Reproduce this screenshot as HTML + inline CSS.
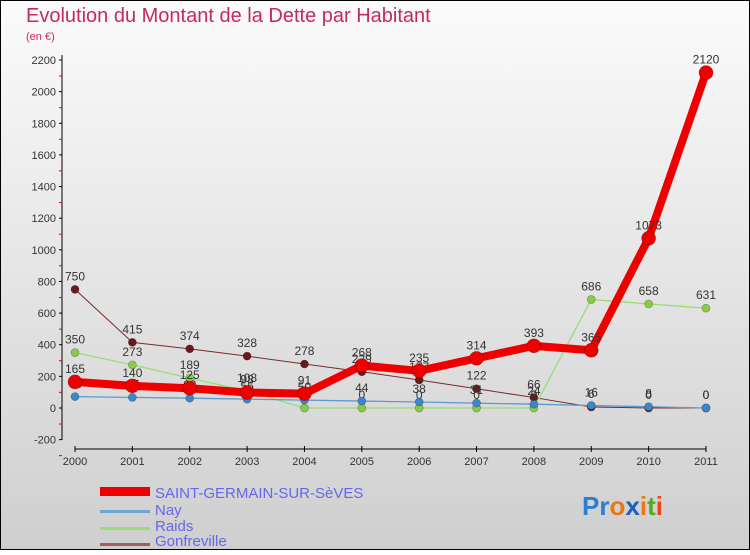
<!DOCTYPE html>
<html><head><meta charset="utf-8"><style>
body{margin:0;width:750px;height:550px;overflow:hidden;font-family:"Liberation Sans",sans-serif}
</style></head><body>
<svg width="750" height="550" xmlns="http://www.w3.org/2000/svg">
<defs><linearGradient id="bg" x1="0" y1="0" x2="0" y2="1"><stop offset="0" stop-color="#fbfbfb"/><stop offset="1" stop-color="#cfcfcf"/></linearGradient></defs>
<rect x="0.5" y="0.5" width="749" height="549" fill="url(#bg)" stroke="#000"/>
<text x="26" y="22" font-size="20" fill="#c8285a">Evolution du Montant de la Dette par Habitant</text>
<text x="26" y="40" font-size="11" fill="#c8285a">(en €)</text>
<g id="axes"></g><g id="series"></g>
<g>
<rect x="100" y="487" width="50" height="9" fill="#e00"/>
<text x="155" y="498" font-size="15" fill="#6666ee">SAINT-GERMAIN-SUR-SèVES</text>
<rect x="100" y="510" width="50" height="3" fill="#6aa6d6"/>
<text x="155" y="515" font-size="15" fill="#6666ee">Nay</text>
<rect x="100" y="527" width="50" height="3" fill="#99dd77"/>
<text x="155" y="531" font-size="15" fill="#6666ee">Raids</text>
<rect x="100" y="543" width="50" height="3" fill="#a06060"/>
<text x="155" y="546" font-size="15" fill="#6666ee">Gonfreville</text>
</g>
<text x="582" y="515" font-size="26" font-weight="bold"><tspan fill="#2a7fd0">Pr</tspan><tspan fill="#ee7711">o</tspan><tspan fill="#1a5fbf">x</tspan><tspan fill="#ee7711">i</tspan><tspan fill="#55aa22">t</tspan><tspan fill="#ee4411">i</tspan></text>
</svg>
<script>
const years=[2000,2001,2002,2003,2004,2005,2006,2007,2008,2009,2010,2011];
const yTicks=[-200,0,200,400,600,800,1000,1200,1400,1600,1800,2000,2200];
const sgValues=[165,140,125,98,91,268,235,314,393,365,1073,2120];
const nayValues=[72,67,62,56,50,44,38,31,24,16,8,0];
const raidsValues=[350,273,189,108,0,0,0,0,0,686,658,631];
const gonfValues=[750,415,374,328,278,229,177,122,66,6,0,0];
const NS='http://www.w3.org/2000/svg';
const xS=i=>75+i*(706-75)/11;
const yS=v=>408-v*348/2200;
function mk(t,a,p){const e=document.createElementNS(NS,t);for(const k in a)e.setAttribute(k,a[k]);p.appendChild(e);return e;}
const ax=document.getElementById('axes');
const yAxis=mk('line',{x1:62,y1:55,x2:62,y2:440,stroke:'#000'},ax);


const xAxis=mk('line',{x1:75,y1:449,x2:706,y2:449,stroke:'#000'},ax);


yTicks.forEach(v=>{const y=yS(v);
mk('line',{x1:59,y1:y,x2:62,y2:y,stroke:'#000'},ax);
mk('line',{x1:59,y1:y+16,x2:62,y2:y+16,stroke:'#e00'},ax);
const t=mk('text',{x:56,y:y+4,'font-size':11,fill:'#333','text-anchor':'end'},ax);t.textContent=v;

});
years.forEach((yr,i)=>{const x=xS(i);
mk('line',{x1:x,y1:446,x2:x,y2:452,stroke:'#000'},ax);
const t=mk('text',{x:x,y:465,'font-size':11,fill:'#333','text-anchor':'middle'},ax);t.textContent=yr;

});
const sg=document.getElementById('series');
function series(vals,color,w,r,name,dot){
const pl=mk('polyline',{points:vals.map((v,i)=>xS(i)+','+yS(v)).join(' '),fill:'none',stroke:color,'stroke-width':w,'stroke-linejoin':'round'},sg);


vals.forEach((v,i)=>{const c=mk('circle',{cx:xS(i),cy:yS(v),r:r,fill:dot,stroke:'rgba(0,0,0,0.3)','stroke-width':0.7},sg);


const t=mk('text',{x:xS(i),y:yS(v)-9,'font-size':12,fill:'#333','text-anchor':'middle'},sg);t.textContent=v;

});}
series(gonfValues,'#7a2a2a',1,4,'gonfreville','#6a1a1a');
series(raidsValues,'#99dd77',1.3,4,'raids','#88cc44');
series(nayValues,'#5a9ad0',1.3,4,'nay','#3a88cc');
series(sgValues,'#ee0000',8,7,'saint-germain','#ee0000');
</script>
</body></html>
